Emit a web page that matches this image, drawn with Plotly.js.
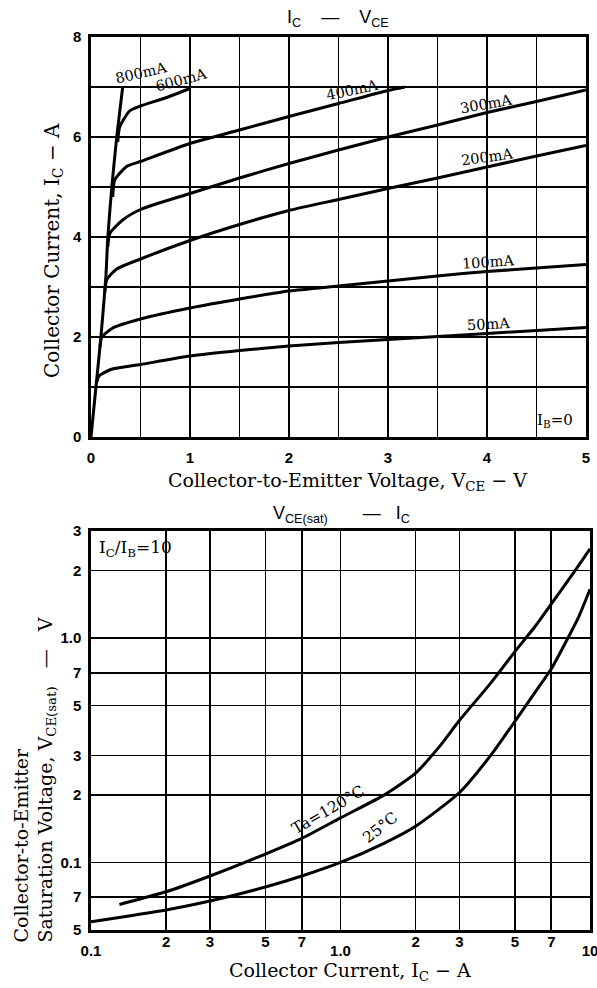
<!DOCTYPE html>
<html>
<head>
<meta charset="utf-8">
<script src="https://cdn.plot.ly/plotly-3.0.1.min.js"></script>
<style>html,body{margin:0;padding:0;background:#fff;}#chart{width:597px;height:988px;}</style>
</head>
<body>
<div id="chart"></div>
<script>
// ---- Top chart: IC - VCE ----
const vce_800 = [0, 0.05, 0.10, 0.15, 0.17, 0.21, 0.26, 0.29, 0.32];
const ic_800  = [0, 1.0, 2.0, 3.2, 4.0, 5.0, 6.0, 6.5, 7.0];
const vce_600 = [0.27, 0.29, 0.39, 0.5, 0.75, 1.0];
const ic_600  = [5.9, 6.2, 6.52, 6.62, 6.78, 6.97];
const vce_400 = [0.22, 0.24, 0.36, 0.5, 1.0, 1.5, 2.0, 2.5, 3.0, 3.17];
const ic_400  = [4.8, 5.14, 5.41, 5.51, 5.87, 6.14, 6.41, 6.67, 6.93, 7.0];
const vce_300 = [0.17, 0.19, 0.32, 0.5, 1.0, 1.5, 2.0, 2.5, 3.0, 3.5, 4.0, 4.5, 5.0];
const ic_300  = [3.8, 4.07, 4.34, 4.55, 4.87, 5.18, 5.47, 5.74, 6.0, 6.24, 6.49, 6.71, 6.94];
const vce_200 = [0.14, 0.16, 0.26, 0.5, 1.0, 1.5, 2.0, 2.5, 3.0, 3.5, 4.0, 4.5, 5.0];
const ic_200  = [2.9, 3.15, 3.36, 3.56, 3.93, 4.25, 4.53, 4.75, 4.97, 5.18, 5.40, 5.62, 5.83];
const vce_100 = [0.09, 0.11, 0.22, 0.5, 1.0, 1.5, 2.0, 2.5, 3.0, 3.5, 4.0, 5.0];
const ic_100  = [1.8, 2.0, 2.18, 2.36, 2.58, 2.76, 2.92, 3.02, 3.12, 3.22, 3.31, 3.45];
const vce_50  = [0.06, 0.08, 0.2, 0.5, 1.0, 1.5, 2.0, 2.5, 3.0, 3.5, 4.0, 5.0];
const ic_50   = [1.1, 1.22, 1.35, 1.45, 1.62, 1.73, 1.82, 1.89, 1.95, 2.01, 2.07, 2.19];
const topXTicks = [0, 1, 2, 3, 4, 5];
const topXMinor = [0.5, 1.5, 2.5, 3.5, 4.5];
const topYTicks = [0, 2, 4, 6, 8];
const topYMinor = [1, 3, 5, 7];
const ibLabels = ["800mA", "600mA", "400mA", "300mA", "200mA", "100mA", "50mA"];
const ibLabelX = [0.50, 0.91, 2.64, 3.99, 4.00, 4.01, 4.02];
const ibLabelY = [7.28, 7.14, 6.94, 6.66, 5.60, 3.50, 2.26];
const ibLabelAngle = [-13, -15, -12, -10, -8, -4, -3];

// ---- Bottom chart: VCE(sat) - IC ----
const ic_120   = [0.13, 0.2, 0.3, 0.5, 0.7, 1.0, 1.5, 2.0, 2.5, 3.0, 4.0, 5.0, 6.0, 7.0, 8.5, 10];
const vsat_120 = [0.065, 0.074, 0.087, 0.109, 0.128, 0.158, 0.2, 0.25, 0.33, 0.43, 0.63, 0.87, 1.12, 1.42, 1.92, 2.5];
const ic_25    = [0.1, 0.2, 0.3, 0.5, 0.7, 1.0, 1.5, 2.0, 3.0, 4.0, 5.0, 6.0, 7.0, 8.0, 9.0, 10];
const vsat_25  = [0.0544, 0.0614, 0.0673, 0.0777, 0.087, 0.1, 0.122, 0.145, 0.205, 0.30, 0.425, 0.57, 0.73, 0.96, 1.24, 1.65];
const botXTicks = [0.1, 0.2, 0.3, 0.5, 0.7, 1, 2, 3, 5, 7, 10];
const botXText  = ["", "2", "3", "5", "7", "", "2", "3", "5", "7", ""];
const botXDecade = [0.1, 1, 10];
const botXDecadeText = ["0.1", "1.0", "10"];
const botYTicks = [0.05, 0.07, 0.1, 0.2, 0.3, 0.5, 0.7, 1, 2, 3];
const botYText  = ["5", "7", "0.1", "2", "3", "5", "7", "1.0", "2", "3"];

const SERIF = "DejaVu Serif";
const SANS = "Liberation Sans";
const NB = "\u00A0";
const tickFont = {family: SANS, size: 15, weight: "bold", color: "#000"};
const curveLine = {color: "#000", width: 3, shape: "spline", smoothing: 0.6};

function topTrace(x, y) {
  return {x: x, y: y, xaxis: "x", yaxis: "y", mode: "lines", line: curveLine, hoverinfo: "skip", showlegend: false};
}
function botTrace(x, y) {
  return {x: x, y: y, xaxis: "x2", yaxis: "y2", mode: "lines", line: curveLine, hoverinfo: "skip", showlegend: false};
}

const traces = [
  topTrace(vce_800, ic_800), topTrace(vce_600, ic_600), topTrace(vce_400, ic_400),
  topTrace(vce_300, ic_300), topTrace(vce_200, ic_200), topTrace(vce_100, ic_100),
  topTrace(vce_50, ic_50),
  botTrace(ic_120, vsat_120), botTrace(ic_25, vsat_25),
  {x: [1], y: [0.1], xaxis: "x3", yaxis: "y2", mode: "markers", marker: {opacity: 0}, hoverinfo: "skip", showlegend: false}
];

const gridCommon = {showgrid: true, gridcolor: "#000", gridwidth: 1.7, zeroline: false,
  showline: true, mirror: true, linecolor: "#000", linewidth: 2.6, ticklabeloverflow: "allow",
  ticks: "outside", tickcolor: "rgba(0,0,0,0)", tickfont: tickFont, fixedrange: true};

function paperNote(px, py, text, opts) {
  return Object.assign({xref: "paper", yref: "paper", x: px/597, y: 1 - py/988, xanchor: "center", yanchor: "middle",
    text: text, showarrow: false, font: {family: SERIF, size: 19, color: "#000"}}, opts || {});
}

const annotations = [];
for (let i = 0; i < ibLabels.length; i++) {
  annotations.push({xref: "x", yref: "y", x: ibLabelX[i], y: ibLabelY[i], text: ibLabels[i],
    textangle: ibLabelAngle[i], showarrow: false, font: {family: SERIF, size: 14.5, color: "#000"}});
}
annotations.push({xref: "x", yref: "y", x: 4.69, y: 0.34, text: "I<sub>B</sub>=0", showarrow: false,
  font: {family: SERIF, size: 15, color: "#000"}});
annotations.push(paperNote(338, 18, "I<sub>C</sub>" + NB + NB + NB + NB + "—" + NB + NB + NB + NB + "V<sub>CE</sub>",
  {font: {family: SANS, size: 18, color: "#000"}}));
annotations.push(paperNote(53, 251, "Collector Current, I<sub>C</sub> − A", {textangle: -90, font: {family: SERIF, size: 20, color: "#000"}}));
annotations.push(paperNote(347, 481, "Collector-to-Emitter Voltage, V<sub>CE</sub> − V"));
annotations.push(paperNote(341, 514, "V<sub>CE(sat)</sub>" + NB + NB + NB + NB + NB + NB + NB + "—" + NB + NB + NB + "I<sub>C</sub>",
  {font: {family: SANS, size: 18, color: "#000"}}));
annotations.push({xref: "x2 domain", yref: "y2 domain", x: 0.012, y: 0.955, xanchor: "left", yanchor: "middle",
  text: "I<sub>C</sub>/I<sub>B</sub>=10", showarrow: false, font: {family: SERIF, size: 17, color: "#000"}});
annotations.push({xref: "x2", yref: "y2", x: Math.log10(0.893), y: Math.log10(0.171), text: "Ta=120°C",
  textangle: -30, showarrow: false, font: {family: SERIF, size: 15.5, color: "#000"}});
annotations.push({xref: "x2", yref: "y2", x: Math.log10(1.44), y: Math.log10(0.142), text: "25°C",
  textangle: -38, showarrow: false, font: {family: SERIF, size: 15.5, color: "#000"}});
annotations.push(paperNote(34, 945, "Collector-to-Emitter<br>Saturation Voltage," + NB + "V<sub>CE(sat)</sub>" + NB + NB + NB + "—" + NB + NB + NB + "V",
  {yanchor: "bottom", align: "left", textangle: -90}));
annotations.push(paperNote(350, 971, "Collector Current, I<sub>C</sub> − A"));

const layout = {
  width: 597, height: 988,
  margin: {l: 0, r: 0, t: 0, b: 0},
  paper_bgcolor: "#fff", plot_bgcolor: "#fff",
  showlegend: false,
  xaxis: Object.assign({}, gridCommon, {domain: [91/597, 586/597], anchor: "y", range: [0, 5],
    tickmode: "array", tickvals: topXTicks, ticklen: 5,
    minor: {tickvals: topXMinor, showgrid: true, gridcolor: "#000", gridwidth: 1.7, ticks: ""}}),
  yaxis: Object.assign({}, gridCommon, {domain: [1 - 437/988, 1 - 37/988], anchor: "x", range: [0, 8],
    tickmode: "array", tickvals: topYTicks, ticklen: 4,
    minor: {tickvals: topYMinor, showgrid: true, gridcolor: "#000", gridwidth: 1.7, ticks: ""}}),
  xaxis2: Object.assign({}, gridCommon, {domain: [91/597, 590/597], anchor: "y2", type: "log", range: [-1, 1],
    tickmode: "array", tickvals: botXTicks, ticktext: botXText, ticks: "", ticklabelstandoff: -4}),
  xaxis3: {overlaying: "x2", anchor: "y2", type: "log", range: [-1, 1], showgrid: false, zeroline: false,
    showline: false, tickmode: "array", tickvals: botXDecade, ticktext: botXDecadeText, ticklabeloverflow: "allow",
    ticks: "outside", ticklen: 7, tickcolor: "rgba(0,0,0,0)", tickfont: tickFont, fixedrange: true},
  yaxis2: Object.assign({}, gridCommon, {domain: [1 - 930/988, 1 - 531/988], anchor: "x2", type: "log",
    range: [Math.log10(0.05), Math.log10(3)], tickmode: "array", tickvals: botYTicks, ticktext: botYText, ticklen: 4}),
  annotations: annotations
};

Plotly.newPlot("chart", traces, layout, {staticPlot: true, displayModeBar: false});
</script>
</body>
</html>
